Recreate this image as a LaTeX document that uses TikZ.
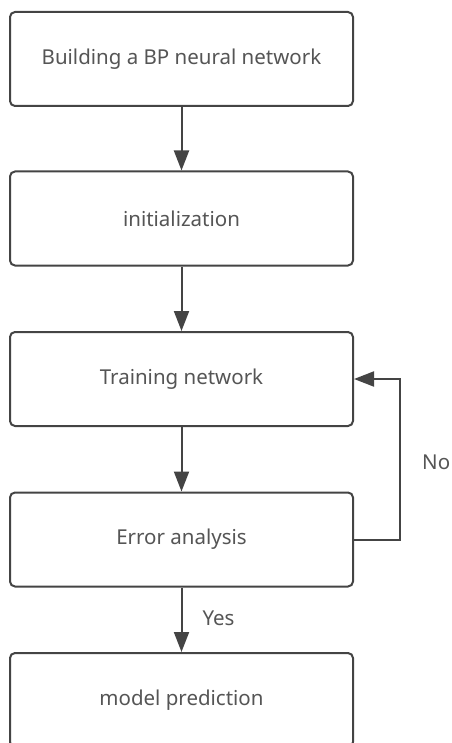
\documentclass[tikz,border=0pt]{standalone}
\usepackage{fontspec}
\setmainfont{Noto Sans}
\usetikzlibrary{arrows.meta}
\definecolor{linec}{HTML}{444444}
\definecolor{textc}{HTML}{555555}
\tikzset{
  box/.style={draw=linec, line width=2pt, rounded corners=5pt, minimum width=343pt, minimum height=94pt, inner sep=0pt, fill=white, text=textc, font=\fontsize{20.5}{24}\selectfont},
  conn/.style={draw=linec, line width=2pt, -{Triangle[length=20pt,width=15pt]}},
  lbl/.style={text=textc, font=\fontsize{20.5}{24}\selectfont, inner sep=0pt}
}
\begin{document}
\begin{tikzpicture}[x=1pt,y=-1pt]
\useasboundingbox (0,0) rectangle (451,743);
\node[box] (b1) at (181.5,59) {Building a BP neural network};
\node[box] (b2) at (181.5,218.5) {initialization};
\node[box] (b3) at (181.5,379) {Training network};
\node[box] (b4) at (181.5,539.5) {Error analysis};
\node[box] (b5) at (181.5,700) {model prediction};
\draw[conn] (b1) -- (b2);
\draw[conn] (b2) -- (b3);
\draw[conn] (b3) -- (b4);
\draw[conn] (b4) -- node[lbl, right=20pt, pos=0.48] (yes) {Yes} (b5);
\coordinate (c1) at (400,539.5);
\coordinate (c2) at (400,379);
\draw[conn] (b4.east) -- (c1) -- (c2) -- (b3.east);
\node[lbl, anchor=west] (no) at (422,462) {No};
\end{tikzpicture}
\end{document}
